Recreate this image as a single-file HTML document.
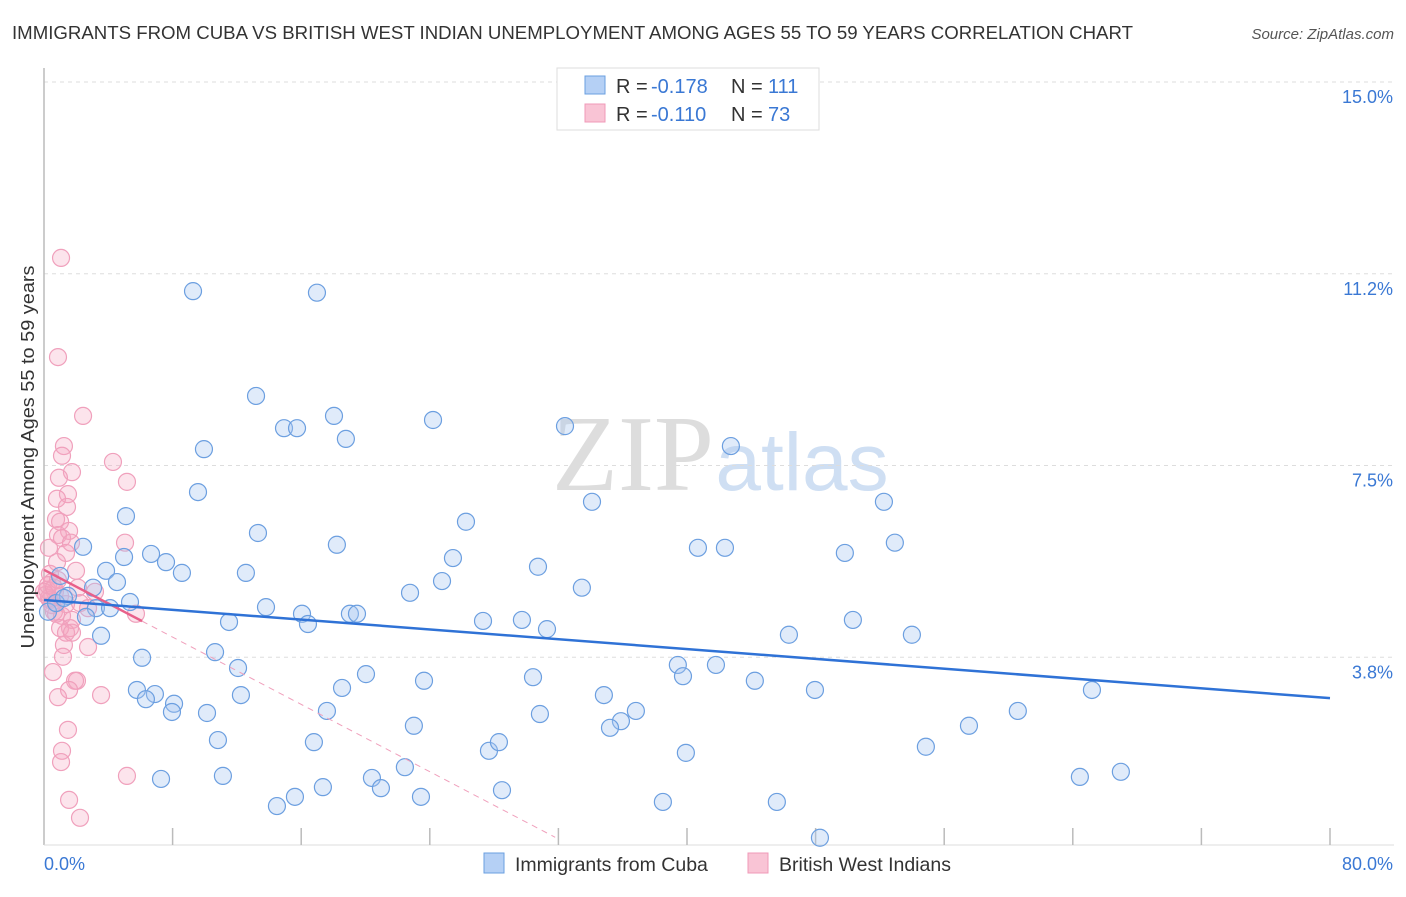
<!DOCTYPE html>
<html><head><meta charset="utf-8"><style>
body{margin:0;background:#fff;font-family:"Liberation Sans",sans-serif}
svg text{font-family:"Liberation Sans",sans-serif}
</style></head><body>
<svg id="chart" width="1406" height="892" xmlns="http://www.w3.org/2000/svg">
<text x="12" y="39" font-size="18.5" fill="#333" textLength="1121" lengthAdjust="spacingAndGlyphs">IMMIGRANTS FROM CUBA VS BRITISH WEST INDIAN UNEMPLOYMENT AMONG AGES 55 TO 59 YEARS CORRELATION CHART</text>
<text x="1394" y="39" font-size="15" fill="#555" text-anchor="end" font-style="italic">Source: ZipAtlas.com</text>
<g>
<text x="633" y="490" font-size="108" fill="#ddd" text-anchor="middle" style="font-family:'Liberation Serif',serif">ZIP</text>
<text x="802" y="490" font-size="82" fill="#cfdff3" text-anchor="middle">atlas</text>
</g>
<g id="grid"></g>
<g id="axes"></g>
<g id="pinkpts"></g>
<g id="bluepts"></g>
<g id="trends"></g>
<text transform="translate(34,457) rotate(-90)" font-size="18" fill="#333" text-anchor="middle" textLength="383" lengthAdjust="spacingAndGlyphs">Unemployment Among Ages 55 to 59 years</text>
<text x="44" y="870" font-size="18" fill="#3a78d4">0.0%</text>
<text x="1393" y="870" font-size="18" fill="#3a78d4" text-anchor="end">80.0%</text>
<g>
<rect x="557" y="68" width="262" height="62" fill="#fff" stroke="#ddd"/>
<rect x="585" y="76" width="20" height="18" fill="#b5d0f5" stroke="#6a9fe0"/>
<rect x="585" y="104" width="20" height="18" fill="#f9c4d5" stroke="#f09ab8"/>
<text x="616" y="93" font-size="20" fill="#333">R =</text>
<text x="651" y="93" font-size="20" fill="#3a78d4">-0.178</text>
<text x="731" y="93" font-size="20" fill="#333">N =</text>
<text x="768" y="93" font-size="20" fill="#3a78d4">111</text>
<text x="616" y="121" font-size="20" fill="#333">R =</text>
<text x="651" y="121" font-size="20" fill="#3a78d4">-0.110</text>
<text x="731" y="121" font-size="20" fill="#333">N =</text>
<text x="768" y="121" font-size="20" fill="#3a78d4">73</text>
</g>
<g>
<rect x="484" y="853" width="20" height="20" fill="#b5d0f5" stroke="#6a9fe0"/>
<text x="515" y="871" font-size="19.5" fill="#333">Immigrants from Cuba</text>
<rect x="748" y="853" width="20" height="20" fill="#f9c4d5" stroke="#f09ab8"/>
<text x="779" y="871" font-size="19.5" fill="#333">British West Indians</text>
</g>
</svg>
<script>
const blueX=[9.27,16.98,13.19,14.93,15.74,18.04,18.78,24.20,32.41,42.73,9.95,9.58,5.10,13.31,26.25,34.09,52.25,2.43,4.98,6.66,7.59,8.58,18.22,25.44,30.73,40.68,42.36,49.82,52.93,3.86,4.54,3.05,12.56,24.76,22.77,33.46,1.00,1.49,3.23,4.11,5.35,13.81,16.05,16.42,19.03,19.47,27.31,29.73,31.29,11.51,50.32,46.34,53.99,3.55,2.61,6.10,10.64,12.07,20.03,23.64,30.42,39.43,39.75,41.80,44.22,5.78,6.90,8.09,6.34,7.96,10.14,12.25,18.54,17.60,34.83,36.82,35.89,35.21,30.85,23.01,47.96,65.19,60.58,57.54,10.82,16.79,27.68,28.30,39.93,54.86,7.28,11.13,20.40,22.45,64.44,66.99,14.49,15.61,17.35,20.96,23.45,28.49,38.50,45.59,48.27,0.25,0.75,1.24];
const blueY=[10.91,10.88,8.86,8.23,8.23,8.47,8.02,8.39,8.27,7.88,7.82,6.98,6.51,6.18,6.40,6.79,6.79,5.91,5.71,5.77,5.61,5.40,5.95,5.69,5.52,5.89,5.89,5.79,5.99,5.44,5.22,5.11,5.40,5.24,5.01,5.11,5.34,4.95,4.71,4.71,4.83,4.73,4.60,4.40,4.60,4.60,4.46,4.48,4.30,4.44,4.48,4.19,4.19,4.17,4.54,3.74,3.85,3.54,3.42,3.29,3.36,3.60,3.38,3.60,3.29,3.11,3.03,2.84,2.93,2.68,2.66,3.01,3.15,2.70,3.01,2.70,2.50,2.37,2.64,2.41,3.11,3.11,2.70,2.41,2.13,2.09,1.92,2.09,1.88,2.00,1.37,1.43,1.39,1.60,1.41,1.51,0.84,1.02,1.21,1.19,1.02,1.15,0.92,0.92,0.22,4.64,4.81,4.91];
const pinkX=[1.06,0.87,2.43,1.24,1.12,4.29,5.16,1.74,0.93,1.49,0.81,1.43,0.75,1.00,1.56,0.87,1.12,1.68,0.31,1.37,5.04,0.81,1.99,0.37,0.50,0.19,0.68,1.00,0.31,2.11,3.17,1.37,2.24,2.74,5.72,0.62,1.12,1.74,1.62,2.74,1.24,1.18,0.56,2.05,1.93,3.55,1.56,0.87,1.49,1.12,1.06,5.16,1.56,2.24,0.37,0.12,0.25,0.87,0.00,0.50,0.75,1.00,1.37,1.74,0.62];
const pinkY=[11.56,9.62,8.47,7.88,7.69,7.57,7.18,7.37,7.26,6.94,6.85,6.69,6.45,6.40,6.22,6.14,6.08,5.99,5.89,5.79,5.99,5.61,5.44,5.38,5.22,5.07,5.03,4.95,4.91,5.11,5.03,4.79,4.81,4.71,4.60,4.64,4.56,4.48,4.32,3.95,3.99,3.76,3.46,3.29,3.29,3.01,3.11,2.97,2.33,1.92,1.70,1.43,0.96,0.61,4.87,4.97,5.16,5.26,5.03,4.77,4.60,4.32,4.23,4.23,5.11];
const yTicks=[3.75,7.5,11.25,15];
const yTickLabels=["3.8%","7.5%","11.2%","15.0%"];
const xTicks=[8,16,24,32,40,48,56,64,72,80];
const blueTrend=[4.87,2.95];
const pinkTrend=[5.46,-0.1645];
const pinkSolidEnd=6.1, pinkDashEnd=31.8;

const X0=44,X1=1330,Y0=849,Y15=82;
const sx=v=>X0+(X1-X0)*v/80;
const sy=v=>Y0-(Y0-Y15)*v/15;
const NS='http://www.w3.org/2000/svg';
function mk(tag,parent,attrs){const e=document.createElementNS(NS,tag);for(const k in attrs)e.setAttribute(k,attrs[k]);parent.appendChild(e);return e;}
const grid=document.getElementById('grid'),axes=document.getElementById('axes');
yTicks.forEach((t,i)=>{
  const l=mk('line',grid,{x1:X0,x2:1394,y1:sy(t),y2:sy(t),stroke:'#ddd','stroke-dasharray':'4,4'});
  
  
  const tx=mk('text',grid,{x:1393,y:sy(t)+21,'font-size':18,fill:'#3a78d4','text-anchor':'end'});
  tx.textContent=yTickLabels[i];
  
  
});
const ya=mk('line',axes,{x1:X0,x2:X0,y1:68,y2:845,stroke:'#bbb','stroke-width':1.5});


const xa=mk('line',axes,{x1:X0,x2:1394,y1:845,y2:845,stroke:'#ddd'});


xTicks.forEach(t=>{
  const l=mk('line',axes,{x1:sx(t),x2:sx(t),y1:828,y2:845,stroke:'#bbb','stroke-width':1.5});
  
  
});
const pg=document.getElementById('pinkpts');
pinkX.forEach((v,i)=>{
  const c=mk('circle',pg,{cx:sx(v),cy:sy(pinkY[i]),r:8.5,fill:'rgba(245,165,192,0.3)',stroke:'#f0a0bc','stroke-width':1.2});
  
  
});
const bg=document.getElementById('bluepts');
blueX.forEach((v,i)=>{
  const c=mk('circle',bg,{cx:sx(v),cy:sy(blueY[i]),r:8.5,fill:'rgba(165,198,240,0.35)',stroke:'#6c9fe0','stroke-width':1.2});
  
  
});
const tg=document.getElementById('trends');
const pd=mk('line',tg,{x1:sx(pinkSolidEnd),y1:sy(pinkTrend[0]+pinkTrend[1]*pinkSolidEnd),x2:sx(pinkDashEnd),y2:sy(pinkTrend[0]+pinkTrend[1]*pinkDashEnd),stroke:'#f0a0bc','stroke-width':1,'stroke-dasharray':'6,5'});


const ps=mk('line',tg,{x1:sx(0),y1:sy(pinkTrend[0]),x2:sx(pinkSolidEnd),y2:sy(pinkTrend[0]+pinkTrend[1]*pinkSolidEnd),stroke:'#e8608a','stroke-width':2.5});


const bt=mk('line',tg,{x1:sx(0),y1:sy(blueTrend[0]),x2:sx(80),y2:sy(blueTrend[1]),stroke:'#2f72d6','stroke-width':2.5});


</script>
</body></html>
